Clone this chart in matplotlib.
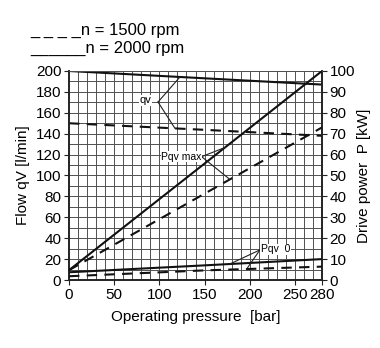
import numpy as np
import matplotlib
matplotlib.use("Agg")
import matplotlib.pyplot as plt

plt.rcParams['font.family'] = ['Liberation Sans', 'DejaVu Sans']

# Operating pressure [bar] sample points
pressure = [0, 150, 280]

# Flow qV [l/min]
qv_2000 = [200, 193, 187]
qv_1500 = [150, 143.7, 138]

# Drive power [kW]
p_max_2000 = [4.7, 55.7, 100]
p_max_1500 = [4.7, 41.3, 73]
p_zero_2000 = [3.7, 7.0, 10.0]
p_zero_1500 = [1.8, 4.6, 6.4]

x_ticks = [0, 50, 100, 150, 200, 250, 280]
flow_ticks = list(range(0, 201, 20))
power_ticks = list(range(0, 101, 10))

fig = plt.figure(figsize=(3.8, 3.48), dpi=100)
ax = fig.add_axes([0.1816, 0.1954, 0.6658, 0.6006])
ax2 = ax.twinx()

ax.set_xlim(0, 280)
ax.set_ylim(0, 200)
ax2.set_ylim(0, 100)

# fine grid: 10 bar by 10 l/min
for xv in range(10, 280, 10):
    ax.axvline(xv, color='#505050', lw=0.7, zorder=1)
for yv in range(10, 200, 10):
    ax.axhline(yv, color='#505050', lw=0.7, zorder=1)

lw = 1.5
dash = (0, (5, 3.5))
ax.plot(pressure, qv_2000, color='#111111', lw=lw, zorder=3)
ax.plot(pressure, qv_1500, color='#111111', lw=lw, ls=dash, zorder=3)
ax2.plot(pressure, p_max_2000, color='#111111', lw=lw, zorder=3)
ax2.plot(pressure, p_max_1500, color='#111111', lw=lw, ls=dash, zorder=3)
ax2.plot(pressure, p_zero_2000, color='#111111', lw=lw, zorder=3)
ax2.plot(pressure, p_zero_1500, color='#111111', lw=lw, ls=dash, zorder=3)

# leader lines from labels to curves
def leader(vertex, x_on, series, axis):
    y_on = np.interp(x_on, pressure, series)
    axis.plot([vertex[0], x_on], [vertex[1], y_on], color='#222222', lw=0.8, zorder=4)

# qv label (flow axis)
leader((98.5, 170.3), 122.8, qv_2000, ax)
leader((98.5, 170.3), 117.3, qv_1500, ax)
ax.text(91, 172, 'qv', fontsize=8, ha='right', va='center', zorder=5,
        bbox=dict(facecolor='white', edgecolor='none', pad=0.5))

# Pqv max label
leader((146.8, 59), 172.6, p_max_2000, ax2)
leader((146.8, 59), 178, p_max_1500, ax2)
ax2.text(146.8, 59, 'Pqv max', fontsize=7.5, ha='right', va='center', zorder=5,
         bbox=dict(facecolor='white', edgecolor='none', pad=0.5))

# Pqv 0 label
leader((211.3, 14.4), 178, p_zero_2000, ax2)
leader((211.3, 14.4), 196.6, p_zero_1500, ax2)
ax2.text(212, 14.6, 'Pqv  0', fontsize=7.5, ha='left', va='center', zorder=5,
         bbox=dict(facecolor='white', edgecolor='none', pad=0.5))

ax.set_xticks(x_ticks)
ax.set_yticks(flow_ticks)
ax2.set_yticks(power_ticks)
for a in (ax, ax2):
    a.tick_params(labelsize=11, length=3.5, width=0.8, color='#222222', pad=2)
    for s in ('left', 'right', 'bottom'):
        a.spines[s].set_linewidth(1.2)
        a.spines[s].set_color('#222222')
    a.spines['top'].set_linewidth(0.7)
    a.spines['top'].set_color('#505050')

ax.set_xlabel('Operating pressure  [bar]', fontsize=11, labelpad=6)
ax.set_ylabel('Flow qV [l/min]', fontsize=11, labelpad=4)
ax2.set_ylabel('Drive power  P [kW]', fontsize=11, labelpad=1)

fig.text(0.079, 0.913, '_ _ _ _n = 1500 rpm', fontsize=12, ha='left', va='center')
fig.text(0.079, 0.861, '______n = 2000 rpm', fontsize=12, ha='left', va='center')

fig.savefig('out.png', dpi=100, facecolor='white')
